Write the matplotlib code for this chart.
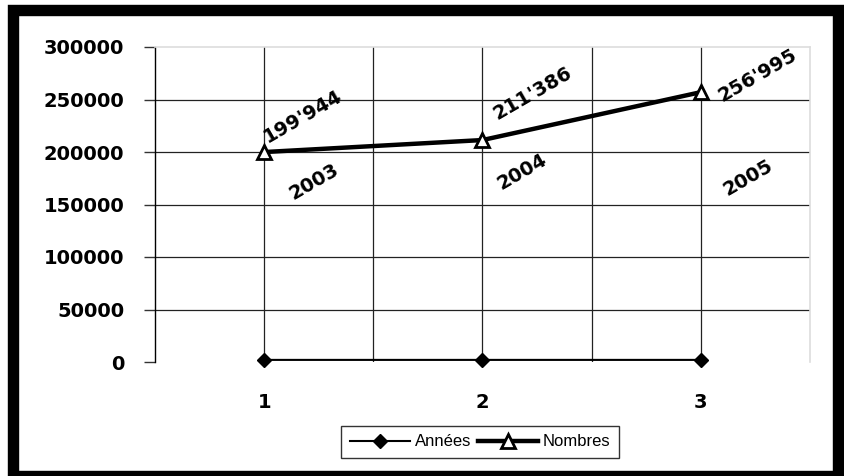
import matplotlib.pyplot as plt
import matplotlib.patches as mpatches

# data
categories = [1, 2, 3]
annees = [2003, 2004, 2005]
nombres = [199944, 211386, 256995]
nombre_labels = ["199'944", "211'386", "256'995"]
annee_labels = ["2003", "2004", "2005"]
y_ticks = [0, 50000, 100000, 150000, 200000, 250000, 300000]

fig = plt.figure(figsize=(8.45, 4.76), dpi=100)
ax = fig.add_axes([155/845, 1-362/476, (810-155)/845, (362-47)/476])

ax.plot(categories, annees, color='black', lw=1.5, marker='D', ms=7,
        mfc='black', mec='black', label='Années', zorder=4, clip_on=False)
ax.plot(categories, nombres, color='black', lw=3.2, marker='^', ms=10,
        mfc='white', mec='black', mew=2, label='Nombres', zorder=5, clip_on=False)

ax.set_xlim(0.5, 3.5)
ax.set_ylim(0, 300000)
ax.set_yticks(y_ticks)
ax.set_yticklabels([str(v) for v in y_ticks])
ax.set_xticks(categories)
ax.set_xticks([1.5, 2.5], minor=True)

ax.set_axisbelow(True)
ax.grid(True, which='both', color='#222222', lw=0.9)
# no gridline along zero / top (top is the light plot-area border)
ygl = ax.yaxis.get_gridlines()
ygl[0].set_visible(False)
ygl[-1].set_visible(False)

for s in ['top', 'right']:
    ax.spines[s].set_color('#dddddd')
    ax.spines[s].set_linewidth(1.2)
    ax.spines[s].set_zorder(3)
ax.spines['bottom'].set_visible(False)
ax.spines['left'].set_color('black')
ax.spines['left'].set_linewidth(1)

ax.tick_params(axis='y', length=8, width=1, color='#333333', pad=14)
ax.tick_params(axis='x', which='both', length=0, pad=22)
for lab in ax.get_xticklabels() + ax.get_yticklabels():
    lab.set_fontfamily('DejaVu Sans')
    lab.set_fontweight('bold')
    lab.set_fontsize(14)

# data labels
off_n = [(39, 36), (50, 47), (57, 17)]
off_a = [(50, 178), (40, 188), (47, 182)]
for i in range(3):
    ax.annotate(nombre_labels[i], (categories[i], nombres[i]),
                xytext=(off_n[i][0]*0.72, off_n[i][1]*0.72), textcoords='offset points',
                ha='center', va='center', rotation=30, fontsize=14,
                fontweight='bold', family='DejaVu Sans', annotation_clip=False)
    ax.annotate(annee_labels[i], (categories[i], annees[i]),
                xytext=(off_a[i][0]*0.72, off_a[i][1]*0.72), textcoords='offset points',
                ha='center', va='center', rotation=30, fontsize=14,
                fontweight='bold', family='DejaVu Sans', annotation_clip=False)

leg = fig.legend(loc='center', bbox_to_anchor=(480/845, 1-442/476), ncol=2,
                 frameon=True, fancybox=False, edgecolor='black', handlelength=3.6,
                 columnspacing=0.4, handletextpad=0.3, borderpad=0.5,
                 prop={'family': 'Liberation Sans', 'size': 12})
leg.get_frame().set_linewidth(1)

# thick black frame around the whole chart
frame = mpatches.Rectangle((13/845, 0), (838-13)/845, (476-10)/476,
                           transform=fig.transFigure, fill=False,
                           edgecolor='black', lw=8.2, clip_on=False)
fig.patches.append(frame)

fig.savefig('out.png', dpi=100)
